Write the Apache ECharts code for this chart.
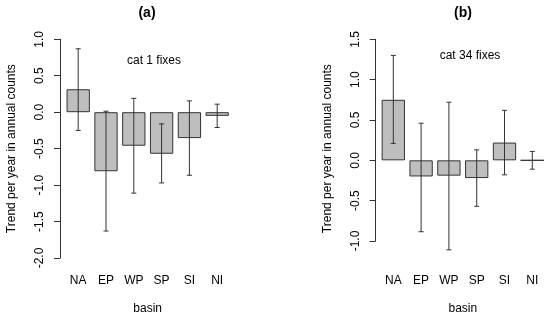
<!DOCTYPE html>
<html>
<head>
<meta charset="utf-8">
<script src="https://cdn.jsdelivr.net/npm/echarts@6/dist/echarts.min.js"></script>
<style>
html,body{margin:0;padding:0;background:#fff;}
#chart{width:550px;height:320px;}
</style>
</head>
<body>
<div id="chart"></div>
<script>
const categories = ['NA', 'EP', 'WP', 'SP', 'SI', 'NI'];

// panel (a): cat 1 fixes
const cat1Trend = [0.315, -0.81, -0.46, -0.57, -0.355, -0.05];
const cat1Lower = [-0.25, -1.63, -1.11, -0.97, -0.865, -0.21];
const cat1Upper = [0.87, 0.013, 0.19, -0.16, 0.155, 0.11];
const cat1YRange = [-2.0, 1.0];

// panel (b): cat 34 fixes
const cat34Trend = [0.75, -0.20, -0.19, -0.22, 0.22, 0.0];
const cat34Lower = [0.21, -0.885, -1.11, -0.57, -0.18, -0.11];
const cat34Upper = [1.30, 0.46, 0.72, 0.13, 0.62, 0.11];
const cat34YRange = [-1.0, 1.5];
const yStep = 0.5;

const panelTitles = ['(a)', '(b)'];
const panelNotes = ['cat 1 fixes', 'cat 34 fixes'];
const yName = 'Trend per year in annual counts';
const xName = 'basin';

const FONT = 'Liberation Sans, Arial, Helvetica, sans-serif';
const LINE = '#333';

function errData(lo, hi) {
  return categories.map((c, i) => [i, lo[i], hi[i]]);
}

function renderErr(params, api) {
  const x = api.value(0);
  const p1 = api.coord([x, api.value(1)]);
  const p2 = api.coord([x, api.value(2)]);
  const hw = 2.5;
  const style = { stroke: LINE, lineWidth: 1, fill: null };
  return {
    type: 'group',
    children: [
      { type: 'line', shape: { x1: p1[0], y1: p1[1], x2: p2[0], y2: p2[1] }, style: style },
      { type: 'line', shape: { x1: p1[0] - hw, y1: p1[1], x2: p1[0] + hw, y2: p1[1] }, style: style },
      { type: 'line', shape: { x1: p2[0] - hw, y1: p2[1], x2: p2[0] + hw, y2: p2[1] }, style: style }
    ]
  };
}

function xAxisCfg(gridIndex, margin, nameGap) {
  return {
    type: 'category', gridIndex: gridIndex, data: categories,
    axisLine: { show: false }, axisTick: { show: false },
    axisLabel: { margin: margin, color: '#000', fontSize: 12, fontFamily: FONT },
    name: xName, nameLocation: 'middle', nameGap: nameGap,
    nameTextStyle: { color: '#000', fontSize: 12, fontFamily: FONT }
  };
}

function yAxisCfg(gridIndex, range, offset, namePad) {
  return {
    type: 'value', gridIndex: gridIndex, min: range[0], max: range[1], interval: yStep,
    offset: offset,
    axisLine: { show: true, lineStyle: { color: LINE, width: 1 } },
    axisTick: { show: true, length: 6, lineStyle: { color: LINE, width: 1 } },
    splitLine: { show: false },
    axisLabel: { rotate: 90, margin: 14, color: '#000', fontSize: 12, fontFamily: FONT,
      formatter: v => v.toFixed(1) },
    name: yName, nameLocation: 'middle', nameGap: 42,
    nameTextStyle: { color: '#000', fontSize: 12, fontFamily: FONT, padding: namePad }
  };
}

const barStyle = { color: '#bebebe', borderColor: LINE, borderWidth: 1 };

const option = {
  backgroundColor: '#fff',
  animation: false,
  title: [
    { text: panelTitles[0], left: 147, top: 6, textAlign: 'center', padding: 0,
      textStyle: { fontSize: 14, fontWeight: 'bold', color: '#000', fontFamily: FONT } },
    { text: panelTitles[1], left: 463, top: 6, textAlign: 'center', padding: 0,
      textStyle: { fontSize: 14, fontWeight: 'bold', color: '#000', fontFamily: FONT } },
    { text: panelNotes[0], left: 154, top: 55, textAlign: 'center', padding: 0,
      textStyle: { fontSize: 12, fontWeight: 'normal', color: '#000', fontFamily: FONT } },
    { text: panelNotes[1], left: 470, top: 50, textAlign: 'center', padding: 0,
      textStyle: { fontSize: 12, fontWeight: 'normal', color: '#000', fontFamily: FONT } }
  ],
  grid: [
    { left: 64.3, top: 39.3, width: 166.8, height: 221.4, containLabel: false },
    { left: 379.4, top: 39.3, width: 166.8, height: 204.4, containLabel: false }
  ],
  xAxis: [
    xAxisCfg(0, 17, 45),
    xAxisCfg(1, 34, 62)
  ],
  yAxis: [
    yAxisCfg(0, cat1YRange, 4.3, [0, 0, 0, 0]),
    yAxisCfg(1, cat34YRange, 3.7, [0, 17, 0, 0])
  ],
  series: [
    { type: 'bar', xAxisIndex: 0, yAxisIndex: 0, data: cat1Trend, barWidth: 23.3, itemStyle: barStyle, z: 2 },
    { type: 'custom', xAxisIndex: 0, yAxisIndex: 0, data: errData(cat1Lower, cat1Upper),
      renderItem: renderErr, clip: false, z: 3 },
    { type: 'bar', xAxisIndex: 1, yAxisIndex: 1, data: cat34Trend, barWidth: 23.3, itemStyle: barStyle, z: 2 },
    { type: 'custom', xAxisIndex: 1, yAxisIndex: 1, data: errData(cat34Lower, cat34Upper),
      renderItem: renderErr, clip: false, z: 3 }
  ]
};

const chart = echarts.init(document.getElementById('chart'), null, { renderer: 'canvas' });
chart.setOption(option);
</script>
</body>
</html>
